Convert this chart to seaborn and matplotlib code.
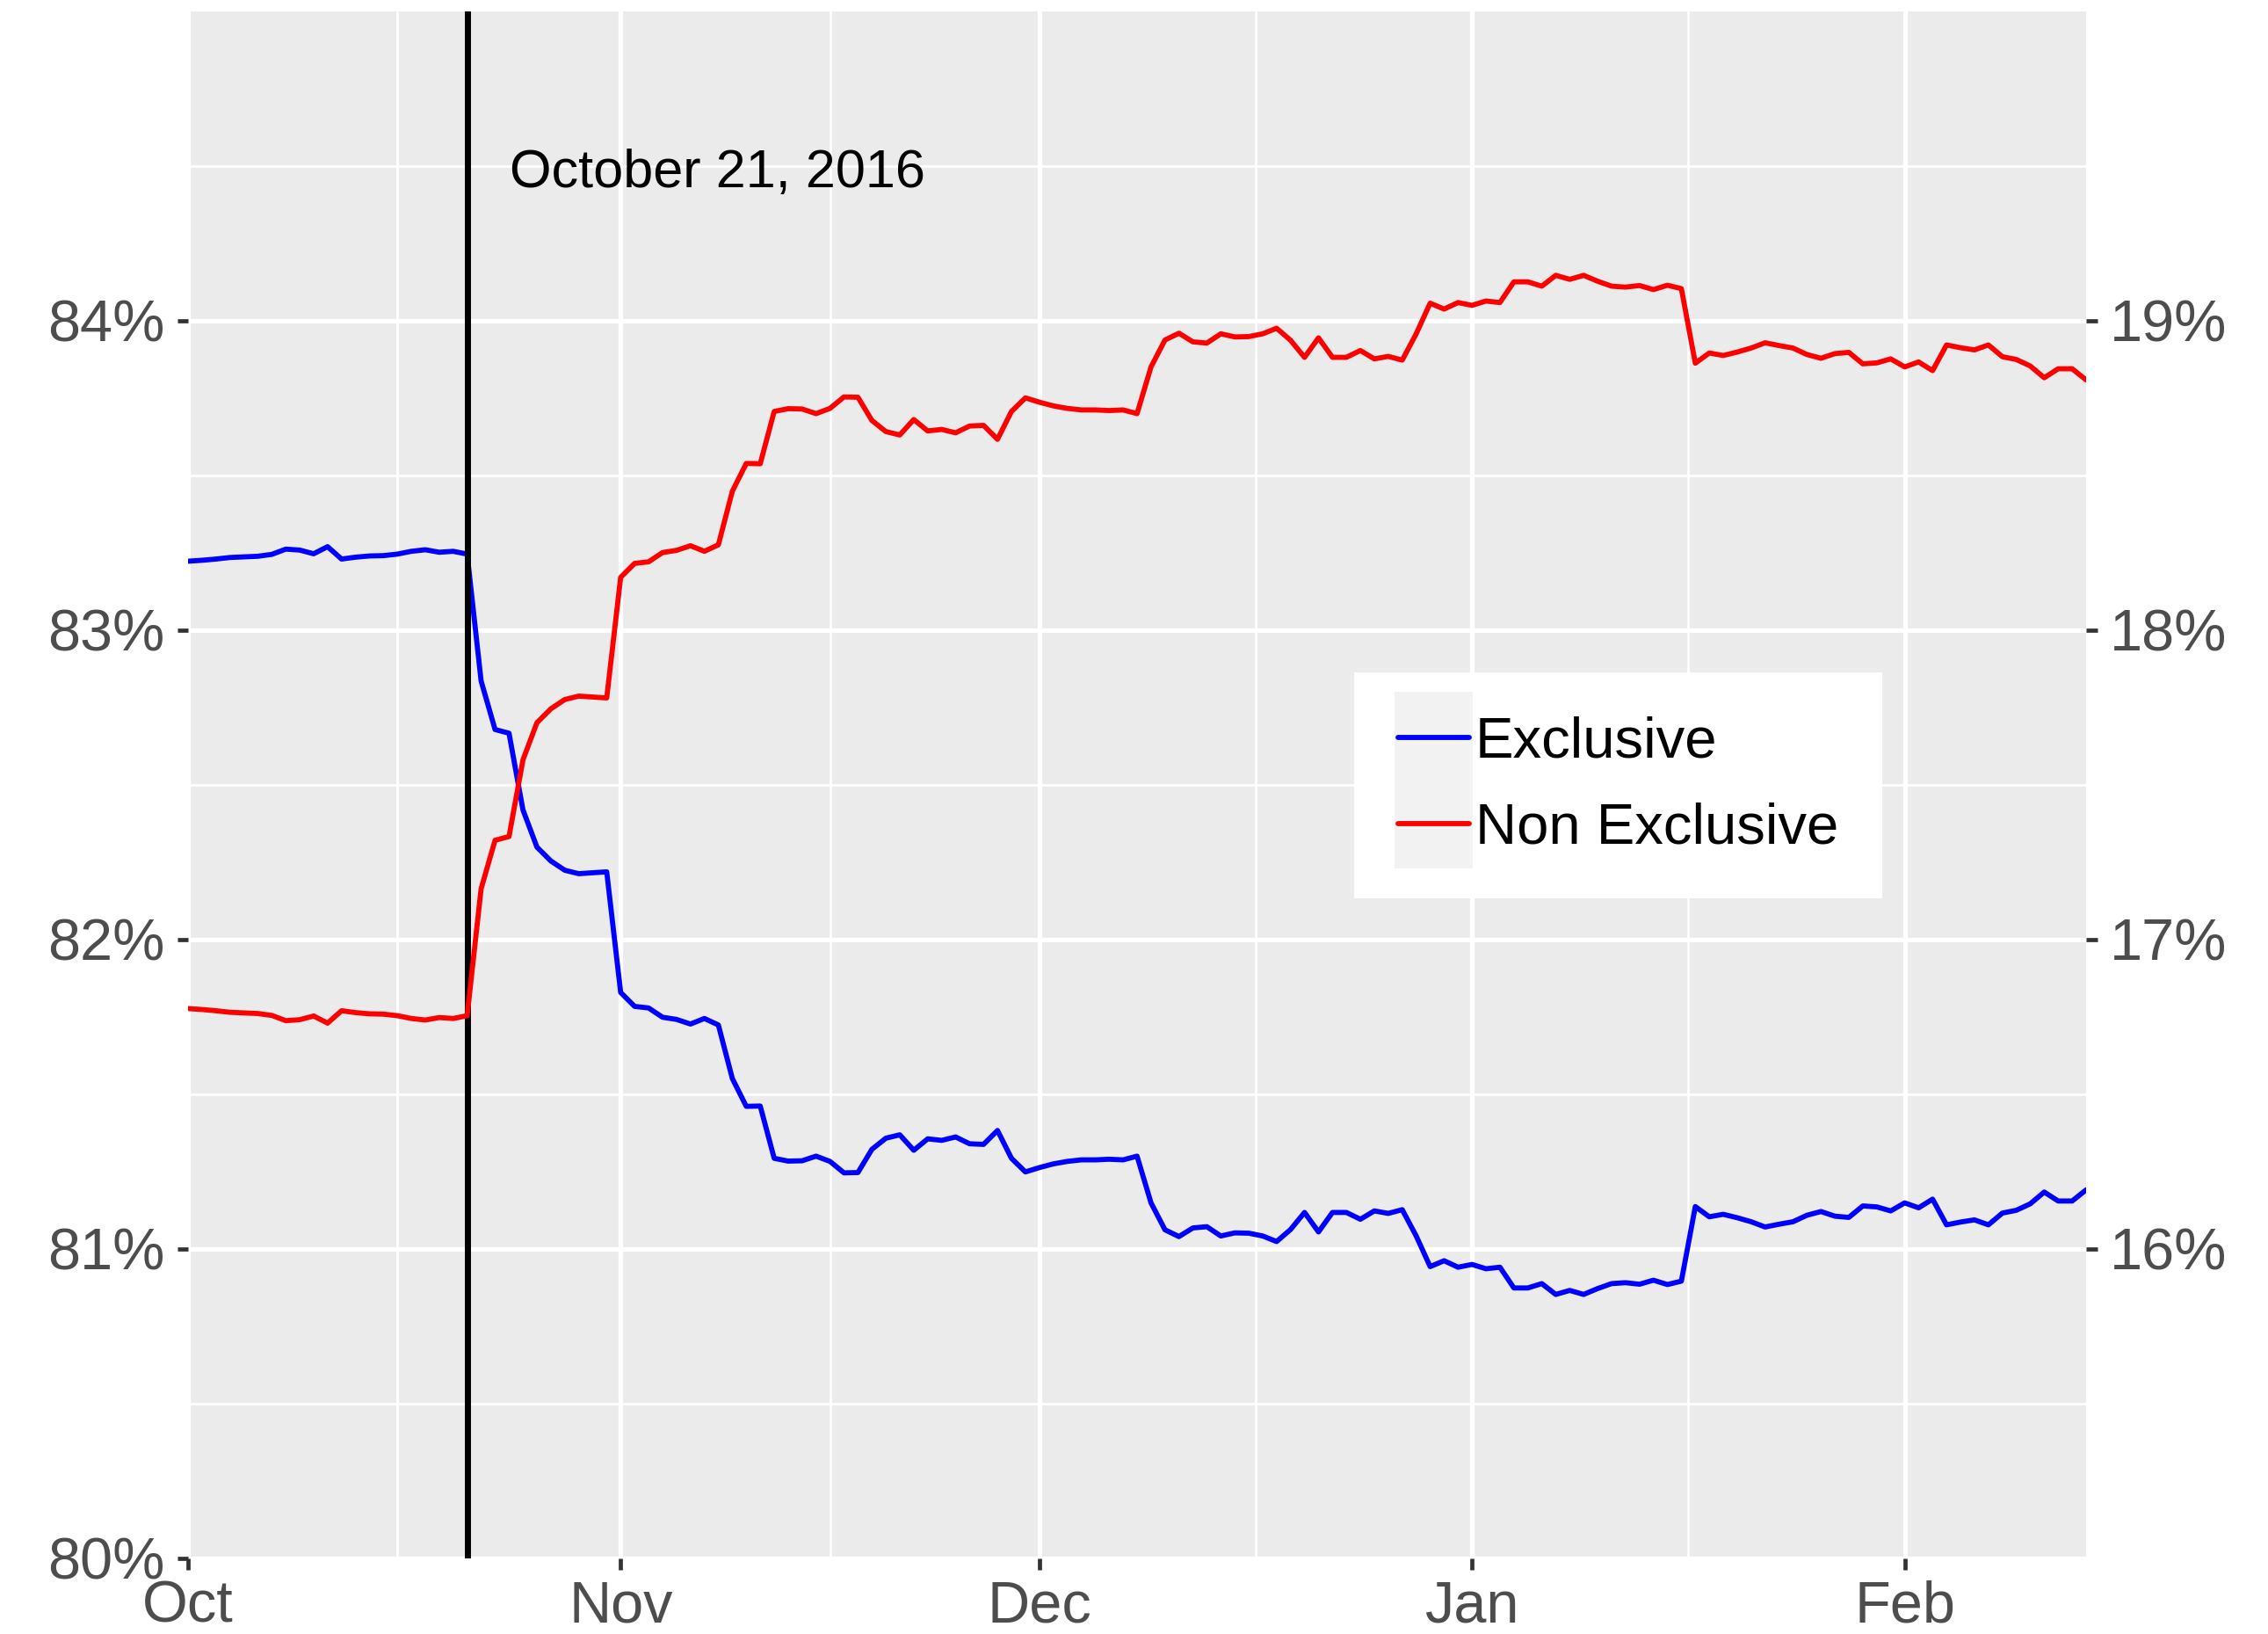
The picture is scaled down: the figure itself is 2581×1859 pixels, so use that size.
import matplotlib
matplotlib.use("Agg")
import matplotlib.pyplot as plt
from matplotlib.legend_handler import HandlerLine2D
from matplotlib.patches import Rectangle
import pandas as pd
import seaborn as sns

# daily share of orders, Oct 1 2016 - Feb 14 2017
dates = pd.date_range("2016-10-01", "2017-02-14", freq="D")

exclusive = [
    83.223, 83.226, 83.230, 83.235, 83.237, 83.239, 83.245, 83.262, 83.259, 83.247,
    83.270, 83.230, 83.236, 83.240, 83.241, 83.246, 83.255, 83.260, 83.252, 83.255,
    83.246, 82.836, 82.679, 82.667, 82.419, 82.299, 82.254, 82.224, 82.213, 82.216,
    82.219, 81.829, 81.784, 81.779, 81.749, 81.742, 81.727, 81.745, 81.724, 81.551,
    81.461, 81.462, 81.293, 81.284, 81.285, 81.300, 81.283, 81.246, 81.247, 81.322,
    81.358, 81.369, 81.319, 81.356, 81.351, 81.362, 81.340, 81.338, 81.383, 81.293,
    81.249, 81.263, 81.275, 81.283, 81.288, 81.288, 81.290, 81.288, 81.300, 81.149,
    81.062, 81.040, 81.068, 81.072, 81.042, 81.052, 81.051, 81.042, 81.024, 81.063,
    81.118, 81.055, 81.118, 81.118, 81.096, 81.123, 81.115, 81.127, 81.042, 80.943,
    80.962, 80.941, 80.950, 80.936, 80.941, 80.874, 80.874, 80.888, 80.853, 80.866,
    80.853, 80.872, 80.888, 80.891, 80.886, 80.899, 80.885, 80.896, 81.137, 81.104,
    81.112, 81.101, 81.088, 81.071, 81.080, 81.088, 81.109, 81.121, 81.106, 81.102,
    81.139, 81.136, 81.123, 81.149, 81.133, 81.161, 81.078, 81.087, 81.094, 81.078,
    81.116, 81.125, 81.146, 81.184, 81.155, 81.155, 81.191,
]

non_exclusive = [
    16.777, 16.774, 16.770, 16.765, 16.763, 16.761, 16.755, 16.738, 16.741, 16.753,
    16.730, 16.770, 16.764, 16.760, 16.759, 16.754, 16.745, 16.740, 16.748, 16.745,
    16.754, 17.164, 17.321, 17.333, 17.581, 17.701, 17.746, 17.776, 17.787, 17.784,
    17.781, 18.171, 18.216, 18.221, 18.251, 18.258, 18.273, 18.255, 18.276, 18.449,
    18.539, 18.538, 18.707, 18.716, 18.715, 18.700, 18.717, 18.754, 18.753, 18.678,
    18.642, 18.631, 18.681, 18.644, 18.649, 18.638, 18.660, 18.662, 18.617, 18.707,
    18.751, 18.737, 18.725, 18.717, 18.712, 18.712, 18.710, 18.712, 18.700, 18.851,
    18.938, 18.960, 18.932, 18.928, 18.958, 18.948, 18.949, 18.958, 18.976, 18.937,
    18.882, 18.945, 18.882, 18.882, 18.904, 18.877, 18.885, 18.873, 18.958, 19.057,
    19.038, 19.059, 19.050, 19.064, 19.059, 19.126, 19.126, 19.112, 19.147, 19.134,
    19.147, 19.128, 19.112, 19.109, 19.114, 19.101, 19.115, 19.104, 18.863, 18.896,
    18.888, 18.899, 18.912, 18.929, 18.920, 18.912, 18.891, 18.879, 18.894, 18.898,
    18.861, 18.864, 18.877, 18.851, 18.867, 18.839, 18.922, 18.913, 18.906, 18.922,
    18.884, 18.875, 18.854, 18.816, 18.845, 18.845, 18.809,
]

event_date = pd.Timestamp("2016-10-21")
event_label = "October 21, 2016"
month_ticks = pd.to_datetime(["2016-10-01", "2016-11-01", "2016-12-01", "2017-01-01", "2017-02-01"])
month_labels = ["Oct", "Nov", "Dec", "Jan", "Feb"]
minor_ticks = pd.to_datetime(["2016-10-16 00:00", "2016-11-16 00:00", "2016-12-16 12:00", "2017-01-16 12:00"])
left_ticks = [80, 81, 82, 83, 84]
right_ticks = [16, 17, 18, 19]


class KeyBackground(HandlerLine2D):
    # ggplot-like grey box behind each legend key
    def create_artists(self, legend, orig_handle, xdescent, ydescent, width, height, fontsize, trans):
        artists = super().create_artists(legend, orig_handle, xdescent, ydescent,
                                         width, height, fontsize, trans)
        py = 0.44 * fontsize
        px = 0.05 * fontsize
        bg = Rectangle((-xdescent - px, -ydescent - py), width + 2 * px, height + 2 * py,
                       facecolor="#F2F2F2", edgecolor="none", transform=trans)
        return [bg] + artists


sns.set_theme(style="darkgrid", rc={
    "axes.facecolor": "#EBEBEB",
    "grid.color": "white",
    "axes.edgecolor": "none",
})
plt.rcParams["font.family"] = ["Liberation Sans", "DejaVu Sans"]

fig, ax = plt.subplots(figsize=(25.81, 18.59), dpi=100)
fig.subplots_adjust(left=0.0829, right=0.9198, top=0.993, bottom=0.0463)
ax2 = ax.twinx()

sns.lineplot(x=dates, y=exclusive, ax=ax, color="#0000FF", linewidth=4.2, label="Exclusive")
sns.lineplot(x=dates, y=non_exclusive, ax=ax2, color="#FF0000", linewidth=4.2, label="Non Exclusive")
ax.axvline(event_date, color="black", linewidth=5, zorder=5)

ax.set_xlim(dates[0], dates[-1])
ax.set_ylim(80, 85)
ax2.set_ylim(15, 20)

ax.set_xticks(month_ticks)
ax.set_xticklabels(month_labels)
ax.set_xticks(minor_ticks, minor=True)
ax.set_yticks(left_ticks)
ax.set_yticklabels([f"{v}%" for v in left_ticks])
ax.set_yticks([80.5, 81.5, 82.5, 83.5, 84.5], minor=True)
ax2.set_yticks(right_ticks)
ax2.set_yticklabels([f"{v}%" for v in right_ticks])

ax.grid(which="major", color="white", linewidth=3.8)
ax.grid(which="minor", color="white", linewidth=2.0)
ax.set_axisbelow(True)
ax2.grid(False)
ax2.patch.set_visible(False)
for a in (ax, ax2):
    for s in a.spines.values():
        s.set_visible(False)
    a.set_xlabel("")
    a.set_ylabel("")

ax.tick_params(axis="both", which="major", labelsize=48, labelcolor="#4D4D4D",
               color="#333333", length=9, width=3.4, direction="out", pad=9,
               bottom=True, left=True)
ax.tick_params(axis="both", which="minor", length=0)
ax.tick_params(axis="y", pad=10)
ax2.tick_params(axis="y", which="major", labelsize=48, labelcolor="#4D4D4D",
                color="#333333", length=9, width=3.4, direction="out", pad=10, right=True)

ax.text(pd.Timestamp("2016-11-07 22:00"), 84.475, event_label, fontsize=44,
        color="black", ha="center", va="center")

h1, l1 = ax.get_legend_handles_labels()
h2, l2 = ax2.get_legend_handles_labels()
if ax.get_legend() is not None:
    ax.get_legend().remove()
leg = ax2.legend(h1 + h2, l1 + l2, loc="upper left", bbox_to_anchor=(0.6144, 0.5727),
                 fontsize=47, frameon=True, fancybox=False, framealpha=1,
                 facecolor="white", edgecolor="none", borderpad=0.76, labelspacing=0.58,
                 handlelength=1.25, handletextpad=0.1, borderaxespad=0,
                 handler_map={h: KeyBackground() for h in h1 + h2})
for t in leg.get_texts():
    t.set_color("black")
leg.set_zorder(10)

fig.savefig("out.png", dpi=100)
